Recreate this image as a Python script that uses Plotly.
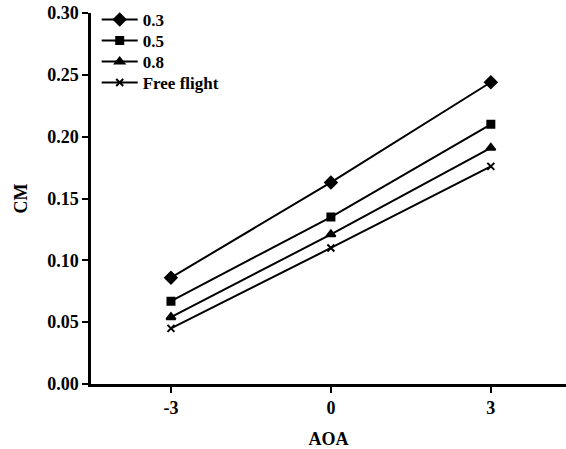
import plotly.graph_objects as go

aoa = [-3, 0, 3]
names = ["0.3", "0.5", "0.8", "Free flight"]
cm_03 = [0.086, 0.163, 0.244]
cm_05 = [0.067, 0.135, 0.210]
cm_08 = [0.054, 0.121, 0.191]
cm_free = [0.045, 0.110, 0.176]
series = [cm_03, cm_05, cm_08, cm_free]
symbols = ["diamond", "square", "triangle-up", "x-thin"]
sizes = [9, 7, 8, 7]
legend_ids = ["legend", "legend2", "legend3", "legend4"]
legend_rows_px = [20, 41, 62, 83]

fig = go.Figure()
for name, vals, sym, sz, lid in zip(names, series, symbols, sizes, legend_ids):
    fig.add_trace(go.Scatter(
        x=aoa, y=vals, name=name, mode="lines+markers", legend=lid,
        line=dict(color="black", width=2),
        marker=dict(symbol=sym, size=sz, color="black",
                    line=dict(color="black", width=2)),
    ))

font = dict(family="Liberation Serif", size=18, color="black", weight="bold")
lfont = dict(family="Liberation Serif", size=17, color="black", weight="bold")

top, bottom = 13, 65
plot_h = 449 - top - bottom
legends = {}
for lid, ypx in zip(legend_ids, legend_rows_px):
    legends[lid] = dict(x=0.012, y=(449 - bottom - ypx) / plot_h,
                        xanchor="left", yanchor="middle",
                        bgcolor="rgba(0,0,0,0)", font=lfont, itemwidth=36)

fig.update_layout(
    width=566, height=449,
    margin=dict(l=91, r=0, t=top, b=bottom),
    paper_bgcolor="white", plot_bgcolor="white",
    font=font,
    showlegend=True,
    xaxis=dict(range=[-4.5, 4.41], tickvals=[-3, 0, 3], ticktext=["-3", "0", "3"],
               showgrid=False, zeroline=False, showline=True, linecolor="black",
               linewidth=2.5, ticks="outside", ticklen=6, tickwidth=2,
               tickcolor="black", tickfont=font, automargin=False,
               title=dict(text="AOA", font=font, standoff=20)),
    yaxis=dict(range=[0, 0.30], tickvals=[0, 0.05, 0.10, 0.15, 0.20, 0.25, 0.30],
               tickformat=".2f", showgrid=False, zeroline=False, showline=True,
               linecolor="black", linewidth=2.5, ticks="outside", ticklen=6,
               tickwidth=2, tickcolor="black", tickfont=font, automargin=False,
               title=dict(text="CM", font=font, standoff=15)),
    **legends,
)

fig.write_html("out.html")
